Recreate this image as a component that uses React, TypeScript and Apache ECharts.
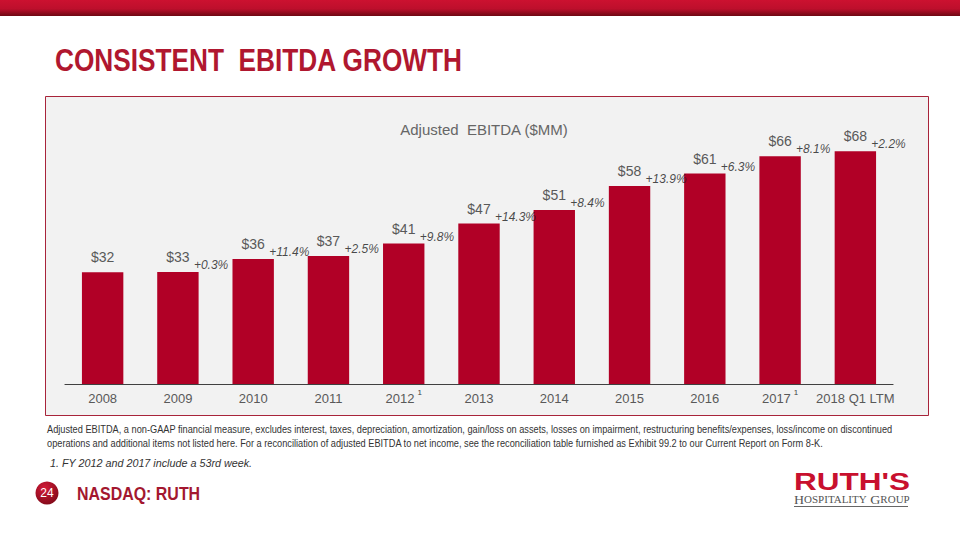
import React, { useEffect, useRef } from "react";
import * as echarts from "echarts";

const categories = ["2008", "2009", "2010", "2011", "2012", "2013", "2014", "2015", "2016", "2017", "2018 Q1 LTM"];
const superscripts = ["", "", "", "", "1", "", "", "", "", "1", ""];
const ebitdaValues = [32.4, 32.5, 36.2, 37.1, 40.7, 46.5, 50.4, 57.4, 61.0, 66.0, 67.5];
const valueLabels = ["$32", "$33", "$36", "$37", "$41", "$47", "$51", "$58", "$61", "$66", "$68"];
const growthLabels = ["", "+0.3%", "+11.4%", "+2.5%", "+9.8%", "+14.3%", "+8.4%", "+13.9%", "+6.3%", "+8.1%", "+2.2%"];

const footnoteLines = [
  "Adjusted EBITDA, a non-GAAP financial measure, excludes interest, taxes, depreciation, amortization, gain/loss on assets, losses on impairment, restructuring benefits/expenses, loss/income on discontinued",
  "operations and additional items not listed here. For a reconciliation of adjusted EBITDA to net income, see the reconciliation table furnished as Exhibit 99.2 to our Current Report on Form 8-K.",
];
const footnote1 = "1. FY 2012 and 2017 include a 53rd week.";

const RED = "#b0172f";
const BAR = "#b10026";

export default function App() {
  const ref = useRef<HTMLDivElement>(null);
  useEffect(() => {
    if (!ref.current) return;
    const chart = echarts.init(ref.current, null, { renderer: "svg" });
    const option: any = {
      animation: false,
      backgroundColor: "#ffffff",
      title: {
        text: "Adjusted  EBITDA ($MM)",
        left: 479,
        top: 117,
        textAlign: "center",
        textStyle: { fontFamily: "Liberation Sans", fontSize: 15, fontWeight: "normal", color: "#666666" },
      },
      grid: { left: 65, right: 67, top: 108, bottom: 156 },
      xAxis: {
        type: "category",
        data: categories,
        axisLine: { lineStyle: { color: "#404040", width: 1.2 } },
        axisTick: { show: false },
        axisLabel: {
          interval: 0,
          margin: 4,
          lineHeight: 20,
          fontFamily: "Liberation Sans",
          fontSize: 13,
          color: "#595959",
          formatter: (v: string, i: number) => (superscripts[i] ? `{m|${v}}{sup|${superscripts[i]}}` : `{m|${v}}`),
          rich: {
            m: { fontSize: 13, lineHeight: 20, color: "#595959", fontFamily: "Liberation Sans", verticalAlign: "middle" },
            sup: { fontSize: 8, lineHeight: 20, color: "#404040", padding: [0, 0, 0, 3], fontFamily: "Liberation Sans", verticalAlign: "top" },
          },
        },
      },
      yAxis: { type: "value", min: 0, max: 80, show: false, splitLine: { show: false } },
      series: [
        {
          type: "bar",
          data: ebitdaValues,
          barCategoryGap: "45%",
          itemStyle: { color: BAR },
          label: {
            show: true,
            position: "top",
            distance: 8,
            fontFamily: "Liberation Sans",
            fontSize: 14,
            color: "#595959",
            formatter: (p: any) => valueLabels[p.dataIndex],
          },
        },
        {
          type: "scatter",
          data: ebitdaValues,
          symbolSize: 0,
          z: 5,
          silent: true,
          label: {
            show: true,
            position: [16, -7],
            align: "left",
            verticalAlign: "middle",
            fontFamily: "Liberation Sans",
            fontStyle: "italic",
            fontSize: 12,
            color: "#1a1a1a",
            formatter: (p: any) => growthLabels[p.dataIndex],
          },
        },
      ],
      graphic: [
        {
          type: "rect",
          z: -10,
          shape: { x: 0, y: 0, width: 960, height: 16 },
          style: {
            fill: new echarts.graphic.LinearGradient(0, 0, 0, 1, [
              { offset: 0, color: "#cc1130" },
              { offset: 0.55, color: "#bd0f2c" },
              { offset: 1, color: "#6e0812" },
            ]),
          },
        },
        {
          type: "text",
          x: 55,
          y: 44,
          scaleX: 0.82,
          style: { text: "CONSISTENT  EBITDA GROWTH", fontFamily: "Liberation Sans", fontWeight: "bold", fontSize: 32, fill: RED },
        },
        {
          type: "rect",
          z: -10,
          shape: { x: 45.5, y: 96.5, width: 883, height: 319 },
          style: { fill: "#f2f2f2", stroke: "#a8243a", lineWidth: 1 },
        },
        {
          type: "text",
          x: 47,
          y: 424,
          scaleX: 0.923,
          style: { text: footnoteLines[0], fontFamily: "Liberation Sans", fontSize: 10, fill: "#333333" },
        },
        {
          type: "text",
          x: 47,
          y: 438,
          scaleX: 0.923,
          style: { text: footnoteLines[1], fontFamily: "Liberation Sans", fontSize: 10, fill: "#333333" },
        },
        {
          type: "text",
          x: 50,
          y: 457,
          scaleX: 0.98,
          style: { text: footnote1, fontFamily: "Liberation Sans", fontStyle: "italic", fontSize: 11, fill: "#333333" },
        },
        {
          type: "circle",
          shape: { cx: 47, cy: 493, r: 11.5 },
          style: {
            fill: new echarts.graphic.RadialGradient(0.4, 0.3, 0.8, [
              { offset: 0, color: "#d41a38" },
              { offset: 1, color: "#7a0816" },
            ]),
          },
        },
        {
          type: "text",
          x: 47,
          y: 493,
          style: { text: "24", fontFamily: "Liberation Sans", fontSize: 12, fill: "#ffffff", align: "center", verticalAlign: "middle" },
        },
        {
          type: "text",
          x: 77,
          y: 484,
          scaleX: 0.84,
          style: { text: "NASDAQ: RUTH", fontFamily: "Liberation Sans", fontWeight: "bold", fontSize: 19, fill: "#a3172f" },
        },
        {
          type: "text",
          x: 794,
          y: 471,
          scaleX: 1.37,
          style: { text: "RUTH'S", fontFamily: "Liberation Sans", fontWeight: "bold", fontSize: 23, fill: "#c8102e" },
        },
        {
          type: "text",
          x: 794,
          y: 494,
          scaleX: 1.16,
          style: {
            text: "{b|H}{s|OSPITALITY} {b|G}{s|ROUP}",
            fontFamily: "Liberation Serif",
            fill: "#555555",
            rich: {
              b: { fontFamily: "Liberation Serif", fontSize: 12, fill: "#555555" },
              s: { fontFamily: "Liberation Serif", fontSize: 9.5, fill: "#555555" },
            },
          },
        },
        {
          type: "line",
          shape: { x1: 794, y1: 506.5, x2: 908, y2: 506.5 },
          style: { stroke: "#666666", lineWidth: 1.2 },
        },
      ],
    };
    chart.setOption(option);
    return () => chart.dispose();
  }, []);
  return <div ref={ref} style={{ position: "absolute", left: 0, top: 0, width: 960, height: 540 }} />;
}
